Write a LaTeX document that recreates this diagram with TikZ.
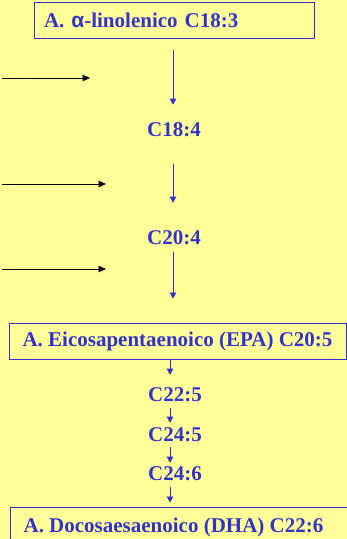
\documentclass[tikz,border=0pt]{standalone}
\usepackage{fontspec}
\setmainfont{Liberation Serif}
\newfontfamily\alfont{Liberation Sans}
\usetikzlibrary{arrows.meta}
\definecolor{bg}{HTML}{FFFF99}
\definecolor{bl}{HTML}{3333CC}
\tikzset{
  lbl/.style={text=bl, font=\fontsize{21}{25}\selectfont\bfseries, inner sep=0pt},
  boxed/.style={lbl, draw=bl, line width=0.9pt},
  barrow/.style={draw=bl, line width=0.8pt, -{Triangle[length=6pt,width=6.5pt]}},
  karrow/.style={draw=black, line width=0.9pt, -{Triangle[length=7.5pt,width=6.5pt]}}
}
\begin{document}
\begin{tikzpicture}[x=1pt,y=-1pt]
\fill[bg] (0,0) rectangle (347,539);
\useasboundingbox (0,0) rectangle (347,539);
\node[boxed, minimum width=280pt, minimum height=36pt, text width=260pt, align=left] (top) at (174,20) {A. {\alfont α}-linolenico C18:3};
\node[lbl] (c184) at (174,130) {C18:4};
\node[lbl] (c204) at (174,238) {C20:4};
\node[boxed, minimum width=337pt, minimum height=36pt] (epa) at (177.5,341) {A. Eicosapentaenoico (EPA) C20:5};
\node[lbl] (c225) at (175,395) {C22:5};
\node[lbl] (c245) at (175,435) {C24:5};
\node[lbl] (c246) at (175,474) {C24:6};
\node[boxed, minimum width=340pt, minimum height=40pt] (dha) at (180,527) {\hspace*{-13pt}A. Docosaesaenoico (DHA) C22:6};
% blue arrows
\draw[barrow, shorten <=12pt, shorten >=18pt] ([xshift=-1pt]top.south) -- ([xshift=-1pt]c184.north);
\draw[barrow, shorten <=27pt, shorten >=28pt] ([xshift=-1pt]c184.south) -- ([xshift=-1pt]c204.north);
\draw[barrow, shorten <=7pt, shorten >=24pt] ([xshift=-1pt]c204.south) -- ([xshift=-1pt]c204.south |- epa.north);
\draw[barrow, shorten >=13pt] ([xshift=-5pt]epa.south -| c225) -- ([xshift=-5pt]c225.north);
\draw[barrow, shorten <=6pt, shorten >=5pt] ([xshift=-5pt]c225.south) -- ([xshift=-5pt]c245.north);
\draw[barrow, shorten <=5pt, shorten >=4pt] ([xshift=-5pt]c245.south) -- ([xshift=-5pt]c246.north);
\draw[barrow, shorten <=6pt, shorten >=4pt] ([xshift=-5pt]c246.south) -- ([xshift=-5pt]c246.south |- dha.north);
% black arrows
\coordinate (k1a) at (2,78);  \coordinate (k1b) at (90,78);
\coordinate (k2a) at (2,184); \coordinate (k2b) at (106,184);
\coordinate (k3a) at (2,269); \coordinate (k3b) at (106,269);
\draw[karrow] (k1a) -- (k1b);
\draw[karrow] (k2a) -- (k2b);
\draw[karrow] (k3a) -- (k3b);
\end{tikzpicture}
\end{document}
